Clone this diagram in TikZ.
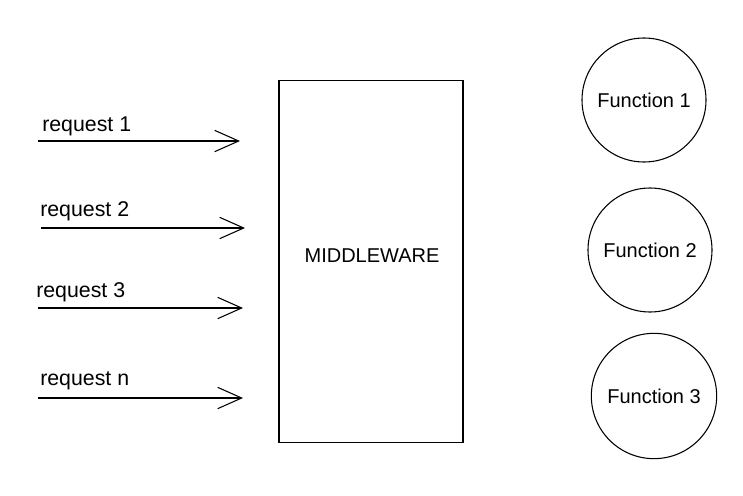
\documentclass[tikz,border=0pt]{standalone}
\usepackage{fontspec}
\setmainfont{Liberation Sans}
\usetikzlibrary{arrows.meta}
\begin{document}
\begin{tikzpicture}[x=0.75pt, y=-0.75pt, >={Straight Barb[length=18pt, width=16pt]}, font=\fontsize{15}{18}\selectfont]
\useasboundingbox (0,0) rectangle (743,496);
\node[shape=rectangle, draw=black, thick, minimum width=138pt, minimum height=271pt] (M) at (371, 261.5) {}; 
\node (MT) at (372, 256) {MIDDLEWARE}; 
\node[shape=circle, draw=black, thick, minimum size=93pt] (F1) at (644, 100) {Function 1}; 
\node[shape=circle, draw=black, thick, minimum size=93pt] (F2) at (650, 250) {Function 2}; 
\node[shape=circle, draw=black, thick, minimum size=94pt] (F3) at (654, 396) {Function 3}; 
\coordinate (a1) at (38, 141); \coordinate (b1) at (240, 141);
\coordinate (a2) at (41, 228); \coordinate (b2) at (245, 228);
\coordinate (a3) at (38, 308); \coordinate (b3) at (243, 308);
\coordinate (a4) at (38, 398); \coordinate (b4) at (243, 398);
\node[anchor=base west, inner sep=0pt, font=\fontsize{16}{19}\selectfont] (r1) at (42, 131) {request 1}; 
\node[anchor=base west, inner sep=0pt, font=\fontsize{16}{19}\selectfont] (r2) at (40, 216) {request 2}; 
\node[anchor=base west, inner sep=0pt, font=\fontsize{16}{19}\selectfont] (r3) at (36, 297) {request 3}; 
\node[anchor=base west, inner sep=0pt, font=\fontsize{16}{19}\selectfont] (r4) at (40, 385) {request n}; 
\path (a1) edge [->, thick, draw=black] (b1);
\path (a2) edge [->, thick, draw=black] (b2);
\path (a3) edge [->, thick, draw=black] (b3);
\path (a4) edge [->, thick, draw=black] (b4);
\end{tikzpicture}
\end{document}
